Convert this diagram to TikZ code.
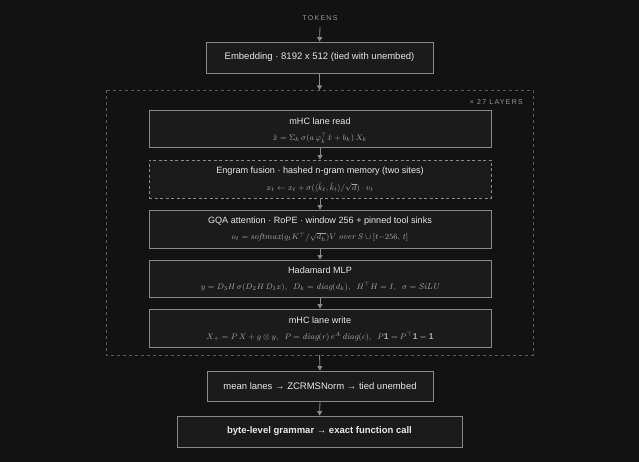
\documentclass[tikz,border=0pt]{standalone}
\usepackage{fontspec}
\setmainfont{Liberation Sans}
\newfontfamily\labelfont[LetterSpace=18]{Liberation Sans}
\newfontfamily\lmfam{Latin Modern Roman}
\newcommand{\mword}[1]{\mbox{\lmfam\itshape #1}}
\usetikzlibrary{arrows.meta}
\definecolor{bg}{HTML}{121212}
\definecolor{boxfill}{HTML}{1B1B1B}
\definecolor{boxline}{HTML}{8A8A8A}
\definecolor{titlecol}{HTML}{E8E8E8}
\definecolor{mathcol}{HTML}{ABABAB}
\definecolor{outerline}{HTML}{5C5C5C}
\definecolor{arrowcol}{HTML}{8A8A8A}
\definecolor{labelcol}{HTML}{9A9A9A}
\tikzset{
  layerbox/.style={draw=boxline, fill=boxfill, line width=0.8pt, minimum width=342pt, minimum height=37pt, inner sep=0pt},
  plainbox/.style={draw=boxline, fill=boxfill, line width=0.8pt, inner sep=0pt},
  titletext/.style={text=titlecol, font=\fontsize{9.5}{11}\selectfont, inner sep=0pt},
  layertitle/.style={text=titlecol, font=\fontsize{9.1}{11}\selectfont, inner sep=0pt},
  mathtext/.style={text=mathcol, font=\fontsize{8.5}{10}\selectfont, inner sep=0pt},
  smalllabel/.style={text=labelcol, font=\labelfont\fontsize{7}{8}\selectfont, inner sep=0pt},
  flow/.style={draw=arrowcol, line width=0.8pt, -{Triangle[width=5pt,length=4.5pt]}},
}
\begin{document}
\begin{tikzpicture}[x=1pt,y=-1pt]
\fill[bg] (0,0) rectangle (639,462);
\useasboundingbox (0,0) rectangle (639,462);

% header label
\node[smalllabel] (tok) at (320,18) {TOKENS};

% embedding
\node[plainbox, minimum width=227pt, minimum height=31pt] (emb) at (319.5,57.5) {};
\node[titletext] at (emb.center) {Embedding · 8192 x 512 (tied with unembed)};

% outer dashed layer frame
\draw[outerline, dashed, dash pattern=on 3pt off 3pt, line width=0.7pt] (106,90) rectangle (533,355);
\coordinate (outtop) at (319.5,90);
\coordinate (outbot) at (319.5,355);
\node[smalllabel, anchor=east] (layers) at (523,102) {× 27 LAYERS};

% layer boxes
\node[layerbox] (read) at (320,128.5) {};
\node[layertitle] at (320,121.5) {mHC lane read};
\node[mathtext] at (320,138.5) {$\tilde{x} = \Sigma_k\, \sigma(a\,\varphi_k^{\top}\tilde{x} + b_k)\, X_k$};

\node[layerbox, dashed, dash pattern=on 3pt off 2.5pt, minimum height=38pt] (engram) at (320,179) {};
\node[layertitle] at (320,171.5) {Engram fusion · hashed n-gram memory (two sites)};
\node[mathtext] at (320,188) {$x_t \leftarrow x_t + \sigma(\langle \hat{k}_t, \tilde{k}_t\rangle/\sqrt{d})\cdot v_t$};

\node[layerbox, minimum height=38pt] (gqa) at (320,229) {};
\node[layertitle] at (320,221) {GQA attention · RoPE · window 256 + pinned tool sinks};
\node[mathtext] at (320,237.5) {$o_t = \mword{softmax}(q_t K^{\top}/\sqrt{d_h})V\ \mword{over}\ S \cup [t{-}256,\, t]$};

\node[layerbox] (mlp) at (320,278.5) {};
\node[layertitle] at (320,270.5) {Hadamard MLP};
\node[mathtext] at (320,287) {$y = D_3 H\, \sigma(D_2 H\, D_1 x),\;\; D_k = \mword{diag}(d_k),\;\; H^{\top}H = I,\;\; \sigma = \mword{SiLU}$};

\node[layerbox, minimum height=38pt] (write) at (320,328) {};
\node[layertitle] at (320,320.5) {mHC lane write};
\node[mathtext] at (320,337) {$X_+ = P\,X + g \otimes y,\;\; P = \mword{diag}(r)\, e^{A}\, \mword{diag}(c),\;\; P\mathbf{1} = P^{\top}\mathbf{1} = \mathbf{1}$};

% output boxes
\node[plainbox, minimum width=226pt, minimum height=30pt] (mean) at (320,386) {};
\node[titletext] at (mean.center) {mean lanes → ZCRMSNorm → tied unembed};

\node[plainbox, minimum width=285pt, minimum height=31pt] (gram) at (319.5,431.5) {};
\node[titletext, font=\bfseries\fontsize{9.5}{11}\selectfont] at (gram.center) {byte-level grammar → exact function call};

% connectors
\draw[flow] (tok.south |- 0,27) -- (emb.north);
\draw[flow] (emb.south) -- (outtop);
\draw[flow] (read.south) -- (engram.north);
\draw[flow] (engram.south) -- (gqa.north);
\draw[flow] (gqa.south) -- (mlp.north);
\draw[flow] (mlp.south) -- (write.north);
\draw[flow] (outbot) -- (mean.north);
\draw[flow] (mean.south) -- (gram.north);
\end{tikzpicture}
\end{document}
